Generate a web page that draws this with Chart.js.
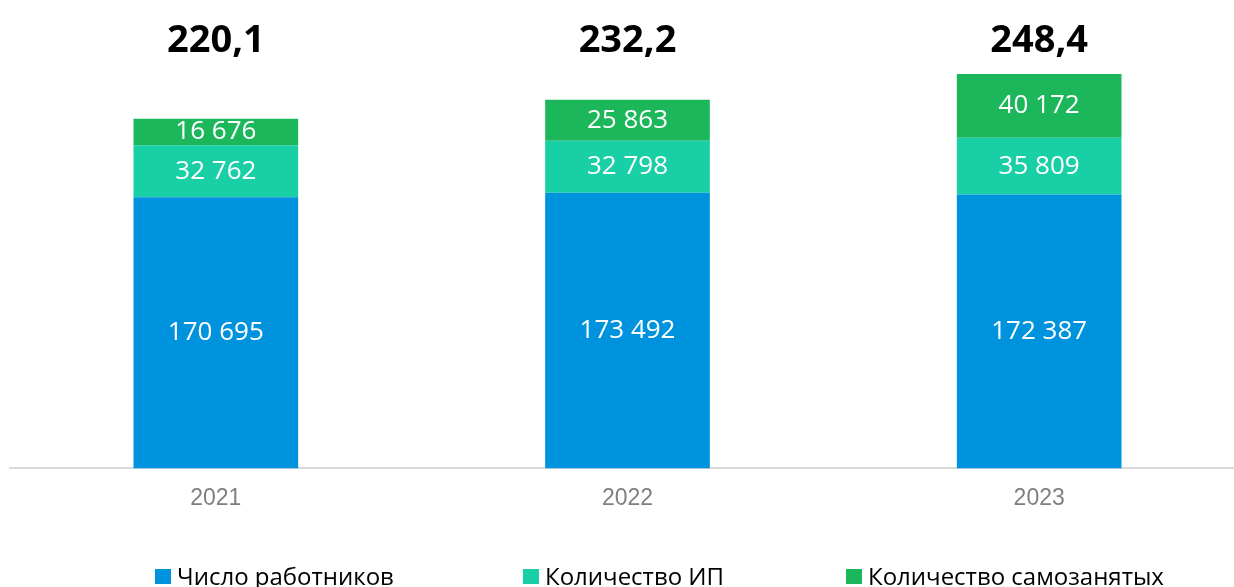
<!DOCTYPE html>
<html>
<head>
<meta charset="utf-8">
<script src="https://cdn.jsdelivr.net/npm/chart.js@4.4.1/dist/chart.umd.min.js"></script>
<style>
html,body{margin:0;padding:0;background:#fff;overflow:hidden;width:1234px;height:587px;}
canvas{display:block;}
</style>
</head>
<body>
<canvas id="c" width="1245" height="587"></canvas>
<script>
const categories = ['2021', '2022', '2023'];
const seriesNames = ['Число работников', 'Количество ИП', 'Количество самозанятых'];
const workers = [170695, 173492, 172387];
const entrepreneurs = [32762, 32798, 35809];
const selfEmployed = [16676, 25863, 40172];
const colors = ['#0093DD', '#19CFA5', '#1DB75B'];

function fmtInt(v) {
  return String(v).replace(/\B(?=(\d{3})+(?!\d))/g, ' ');
}
function fmtTotal(v) {
  return (v / 1000).toFixed(1).replace('.', ',');
}

const labelsPlugin = {
  id: 'labelsPlugin',
  afterDatasetsDraw(chart) {
    const ctx = chart.ctx;
    ctx.save();
    ctx.textAlign = 'center';
    ctx.textBaseline = 'middle';
    ctx.fillStyle = '#ffffff';
    ctx.font = '26px "Open Sans"';
    chart.data.datasets.forEach((ds, di) => {
      const meta = chart.getDatasetMeta(di);
      meta.data.forEach((bar, i) => {
        const y = (bar.y + bar.base) / 2;
        ctx.fillText(fmtInt(ds.data[i]), bar.x, y);
      });
    });
    // totals
    ctx.fillStyle = '#000000';
    ctx.font = 'bold 38px "Open Sans"';
    const meta0 = chart.getDatasetMeta(0);
    meta0.data.forEach((bar, i) => {
      let total = 0;
      chart.data.datasets.forEach(ds => total += ds.data[i]);
      ctx.fillText(fmtTotal(total), bar.x, chart.chartArea.top - 24);
    });
    ctx.restore();
  }
};

const legendPlugin = {
  id: 'customLegend',
  afterDraw(chart) {
    const ctx = chart.ctx;
    const xs = [155, 523, 846];
    ctx.save();
    ctx.font = '24px "Open Sans"';
    ctx.textBaseline = 'alphabetic';
    ctx.textAlign = 'left';
    chart.data.datasets.forEach((ds, i) => {
      ctx.fillStyle = ds.backgroundColor;
      ctx.fillRect(xs[i], 569, 16, 15);
      ctx.fillStyle = '#000000';
      ctx.fillText(ds.label, xs[i] + 22, 585);
    });
    ctx.restore();
  }
};

new Chart(document.getElementById('c'), {
  type: 'bar',
  data: {
    labels: categories,
    datasets: [
      { label: seriesNames[0], data: workers, backgroundColor: colors[0] },
      { label: seriesNames[1], data: entrepreneurs, backgroundColor: colors[1] },
      { label: seriesNames[2], data: selfEmployed, backgroundColor: colors[2] }
    ]
  },
  options: {
    responsive: false,
    animation: false,
    events: [],
    layout: { padding: { left: 10, right: 0, top: 65, bottom: 59 } },
    datasets: { bar: { categoryPercentage: 1, barPercentage: 0.4, borderWidth: 0 } },
    plugins: { legend: { display: false }, tooltip: { enabled: false } },
    scales: {
      x: {
        stacked: true,
        grid: { display: false, drawTicks: false },
        border: { display: true, color: '#d9d9d9', width: 2 },
        ticks: { color: '#7f7f7f', font: { family: '"Liberation Sans"', size: 23 }, padding: 16 }
      },
      y: {
        stacked: true,
        display: false,
        min: 0,
        max: 254000
      }
    }
  },
  plugins: [labelsPlugin, legendPlugin]
});
</script>
</body>
</html>
